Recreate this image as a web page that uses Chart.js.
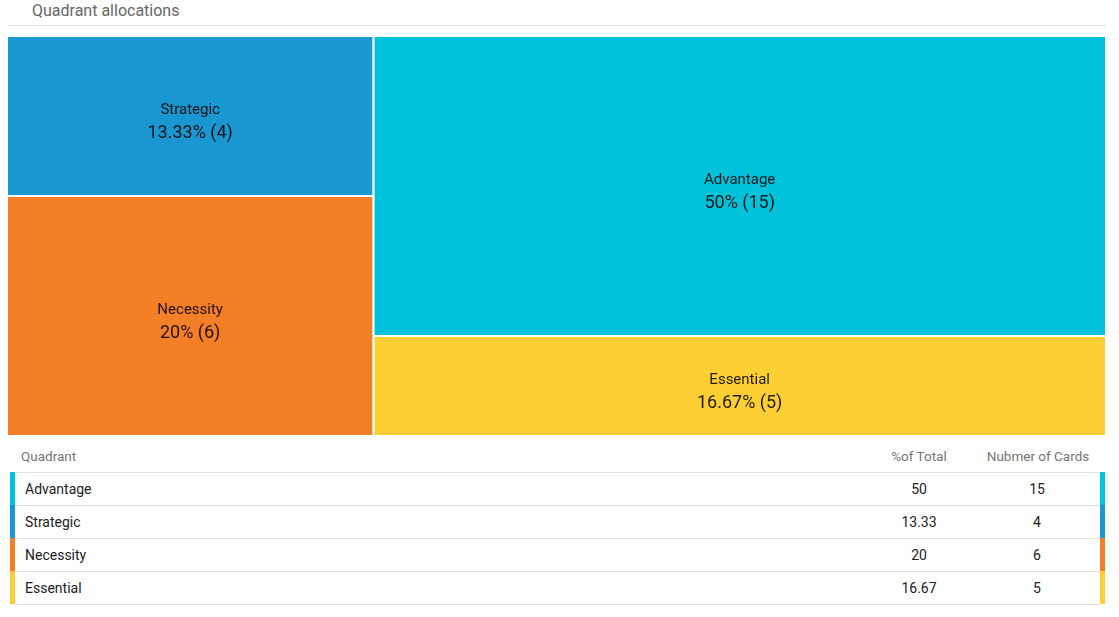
<!DOCTYPE html>
<html>
<head>
<meta charset="utf-8">
<script src="https://cdn.jsdelivr.net/npm/chart.js@4/dist/chart.umd.min.js"></script>
<style>
  html, body { margin:0; padding:0; background:#fff; width:1119px; height:617px; overflow:hidden; font-family: Roboto, "Noto Sans", sans-serif; }
  #title { position:absolute; left:32px; top:0px; font-size:16px; color:#666; line-height:22px; }
  #rule { position:absolute; left:8px; top:25px; width:1098px; height:1px; background:#e3e3e3; }
  #wrap { position:absolute; left:7px; top:36px; width:1099px; height:400px; }
  .cell { position:absolute; white-space:nowrap; }
  .hdr { color:#757575; font-size:13.5px; }
  .txt { color:#212121; font-size:14px; }
  .line { position:absolute; height:1px; background:#e0e0e0; }
  .bar { position:absolute; width:5px; height:33px; }
</style>
</head>
<body>
<div id="title">Quadrant allocations</div>
<div id="rule"></div>
<div id="wrap"><canvas id="c" width="1099" height="400"></canvas></div>
<div id="table"></div>
<script>
// ---- data ----
const categories = ['Advantage', 'Strategic', 'Necessity', 'Essential'];
const cardCounts = [15, 4, 6, 5];
const percentOfTotal = [50, 13.33, 20, 16.67];
const columnHeaders = ['Quadrant', '%of Total', 'Nubmer of Cards'];
// treemap grouping (columns, top to bottom)
const treemapColumns = [['Strategic', 'Necessity'], ['Advantage', 'Essential']];
// ---- style ----
const colors = { Advantage: '#00c2da', Strategic: '#1a97d1', Necessity: '#f47f27', Essential: '#fecf33' };

// ---- layout computed from values ----
const total = cardCounts.reduce((a, b) => a + b, 0);
const rects = [];
let xCursor = 0;
treemapColumns.forEach(col => {
  const colSum = col.reduce((s, name) => s + cardCounts[categories.indexOf(name)], 0);
  let yCursor = 0;
  col.forEach(name => {
    const v = cardCounts[categories.indexOf(name)];
    const h = v / colSum;
    rects.push({ name, x0: xCursor, x1: xCursor + colSum, y0: yCursor, y1: yCursor + h });
    yCursor += h;
  });
  xCursor += colSum;
});

const datasets = rects.map(r => ({
  label: r.name,
  data: [ {x: r.x0, y: r.y0}, {x: r.x1, y: r.y0}, {x: r.x1, y: r.y1}, {x: r.x0, y: r.y1}, {x: r.x0, y: r.y0} ],
  showLine: true,
  fill: 'shape',
  backgroundColor: colors[r.name],
  borderColor: '#ffffff',
  borderWidth: 2,
  pointRadius: 0,
  pointHoverRadius: 0,
  tension: 0
}));

const labelPlugin = {
  id: 'treemapLabels',
  afterDatasetsDraw(chart) {
    const ctx = chart.ctx;
    const xs = chart.scales.x, ys = chart.scales.y;
    ctx.save();
    ctx.textAlign = 'center';
    ctx.textBaseline = 'middle';
    ctx.fillStyle = 'rgba(0,0,0,0.87)';
    rects.forEach(r => {
      const i = categories.indexOf(r.name);
      const cx = xs.getPixelForValue((r.x0 + r.x1) / 2);
      const cy = ys.getPixelForValue((r.y0 + r.y1) / 2);
      ctx.font = '15px Roboto';
      ctx.fillText(r.name, cx, cy - 6);
      ctx.font = '18px Roboto';
      ctx.fillText(percentOfTotal[i] + '% (' + cardCounts[i] + ')', cx, cy + 17);
    });
    ctx.restore();
  }
};

new Chart(document.getElementById('c'), {
  type: 'scatter',
  data: { datasets },
  options: {
    responsive: false,
    animation: false,
    devicePixelRatio: 1,
    events: [],
    layout: { padding: 0 },
    plugins: { legend: { display: false }, tooltip: { enabled: false } },
    scales: {
      x: { type: 'linear', min: 0, max: total, display: false },
      y: { type: 'linear', min: 0, max: 1, reverse: true, display: false }
    }
  },
  plugins: [labelPlugin]
});

// ---- table ----
const table = document.getElementById('table');
function addCell(text, cls, left, centerY, align) {
  const d = document.createElement('div');
  d.className = 'cell ' + cls;
  d.textContent = text;
  d.style.top = (centerY - 10) + 'px';
  d.style.lineHeight = '20px';
  if (align === 'center') { d.style.left = (left - 100) + 'px'; d.style.width = '200px'; d.style.textAlign = 'center'; }
  else d.style.left = left + 'px';
  table.appendChild(d);
}
addCell(columnHeaders[0], 'hdr', 21, 456);
addCell(columnHeaders[1], 'hdr', 919, 456, 'center');
addCell(columnHeaders[2], 'hdr', 1038, 456, 'center');
const rowTop = 472, rowH = 33;
function addLine(y) {
  const l = document.createElement('div');
  l.className = 'line'; l.style.left = '15px'; l.style.width = '1085px'; l.style.top = y + 'px';
  table.appendChild(l);
}
addLine(rowTop);
categories.forEach((name, i) => {
  const top = rowTop + i * rowH;
  const cy = top + rowH / 2 + 0.5;
  addCell(name, 'txt', 25, cy);
  addCell(String(percentOfTotal[i]), 'txt', 919, cy, 'center');
  addCell(String(cardCounts[i]), 'txt', 1037, cy, 'center');
  addLine(top + rowH - 1 + 1);
  ['10px', '1100px'].forEach(lx => {
    const b = document.createElement('div');
    b.className = 'bar'; b.style.left = lx; b.style.top = top + 'px'; b.style.background = colors[name];
    table.appendChild(b);
  });
});
</script>
</body>
</html>
